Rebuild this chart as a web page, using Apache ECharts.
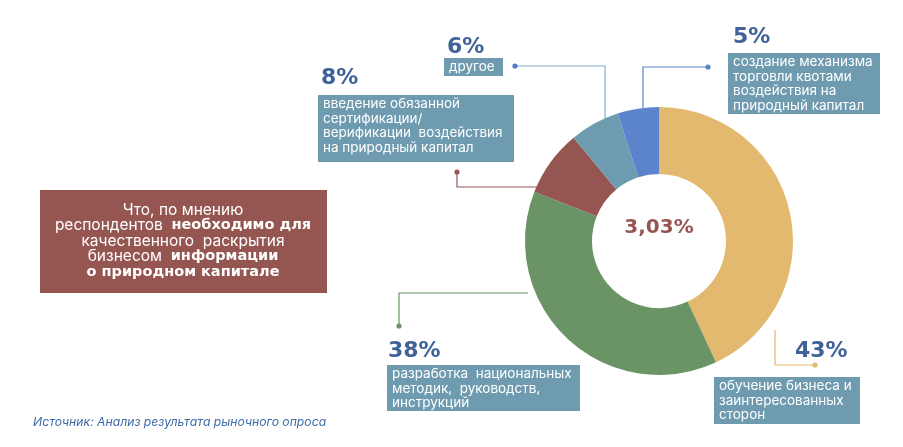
<!DOCTYPE html>
<html>
<head>
<meta charset="utf-8">
<script src="https://cdn.jsdelivr.net/npm/echarts@6/dist/echarts.min.js"></script>
<style>
  html, body { margin: 0; padding: 0; background: #fff; }
  #chart { width: 903px; height: 447px; }
</style>
</head>
<body>
<div id="chart"></div>
<script>
// данные опроса (по часовой стрелке от верха)
var categories = [
  'обучение бизнеса и\nзаинтересованных\nсторон',
  'разработка  национальных\nметодик,  руководств,\nинструкций',
  'введение обязанной\nсертификации/\nверификации  воздействия\nна природный капитал',
  'другое',
  'создание механизма\nторговли квотами\nвоздействия на\nприродный капитал'
];
var values = [43, 38, 8, 6, 5];
var centerLabel = '3,03%';
var sliceColors = ['#E3B96F', '#6A9465', '#955651', '#6F9BB0', '#5B84CC'];
var lineColors = ['#E3B96F', '#6A9465', '#955651', '#86ABCF', '#5B84CC'];
var dotColors = ['#E3B96F', '#6A9465', '#955651', '#4F7BC2', '#5B84CC'];

// размещение подписей (пиксели)
var layout = [
  {pct: [795, 340], box: [714, 377, 146, 47], line: [[775, 330], [775, 365], [815, 365]]},
  {pct: [388, 340], box: [387, 365, 193, 46], line: [[528, 293], [399, 293], [399, 326]]},
  {pct: [321, 67],  box: [318, 95, 196, 67],  line: [[540, 187], [457, 187], [457, 172]]},
  {pct: [447, 36],  box: [444, 58, 59, 18],   line: [[605, 128], [605, 66], [515, 66]]},
  {pct: [733, 26],  box: [728, 53, 152, 61],  line: [[643, 108], [643, 67], [708, 67]]}
];

var FONT = 'Inter, "Noto Sans", sans-serif';
var BOLD = '"DejaVu Sans", sans-serif';
var graphics = [];

layout.forEach(function (l, i) {
  var pts = l.line;
  graphics.push({
    type: 'polyline', silent: true,
    shape: {points: pts},
    style: {stroke: lineColors[i], lineWidth: 1.2, fill: null}
  });
  var end = pts[pts.length - 1];
  graphics.push({
    type: 'circle', silent: true,
    shape: {cx: end[0], cy: end[1], r: 2.6},
    style: {fill: dotColors[i]}
  });
  graphics.push({
    type: 'rect', silent: true,
    shape: {x: l.box[0], y: l.box[1], width: l.box[2], height: l.box[3]},
    style: {fill: '#6F9BB0'}
  });
  graphics.push({
    type: 'text', silent: true,
    x: l.box[0] + 5, y: l.box[1] + 2,
    style: {
      text: categories[i], fill: '#fff', font: '13.5px ' + FONT,
      lineHeight: 14.5, textVerticalAlign: 'top'
    }
  });
  graphics.push({
    type: 'text', silent: true,
    x: l.pct[0], y: l.pct[1],
    style: {
      text: values[i] + '%', fill: '#3F6399', font: 'bold 22px ' + BOLD,
      textVerticalAlign: 'top'
    }
  });
});

// заголовок
graphics.push({
  type: 'rect', silent: true,
  shape: {x: 40, y: 190, width: 287, height: 103},
  style: {fill: '#955651'}
});
graphics.push({
  type: 'text', silent: true,
  x: 183, y: 241,
  style: {
    text: 'Что, по мнению\nреспондентов  {b|необходимо для}\nкачественного  раскрытия\nбизнесом  {b|информации}\n{b|о природном капитале}',
    fill: '#fff', font: '15.5px ' + FONT, lineHeight: 15.5,
    align: 'center', verticalAlign: 'middle',
    rich: {b: {fontWeight: 'bold', fontSize: 14.5, fontFamily: BOLD, fill: '#fff', lineHeight: 15.5}}
  }
});
// источник
graphics.push({
  type: 'text', silent: true,
  x: 33, y: 422,
  style: {
    text: 'Источник: Анализ результата рыночного опроса',
    fill: '#3D6BA6', font: 'italic 12.2px ' + FONT, verticalAlign: 'middle'
  }
});
// центр
graphics.push({
  type: 'text', silent: true,
  x: 659, y: 228,
  style: {
    text: centerLabel, fill: '#955651', font: 'bold 20px ' + BOLD,
    align: 'center', verticalAlign: 'middle'
  }
});

var option = {
  animation: false,
  series: [{
    type: 'pie',
    center: [659, 241],
    radius: [67, 134],
    startAngle: 90,
    clockwise: true,
    label: {show: false},
    labelLine: {show: false},
    emphasis: {disabled: true},
    itemStyle: {borderWidth: 0},
    data: values.map(function (v, i) {
      return {value: v, name: categories[i], itemStyle: {color: sliceColors[i]}};
    })
  }],
  graphic: graphics
};

var myChart = echarts.init(document.getElementById('chart'));
myChart.setOption(option);
</script>
</body>
</html>
